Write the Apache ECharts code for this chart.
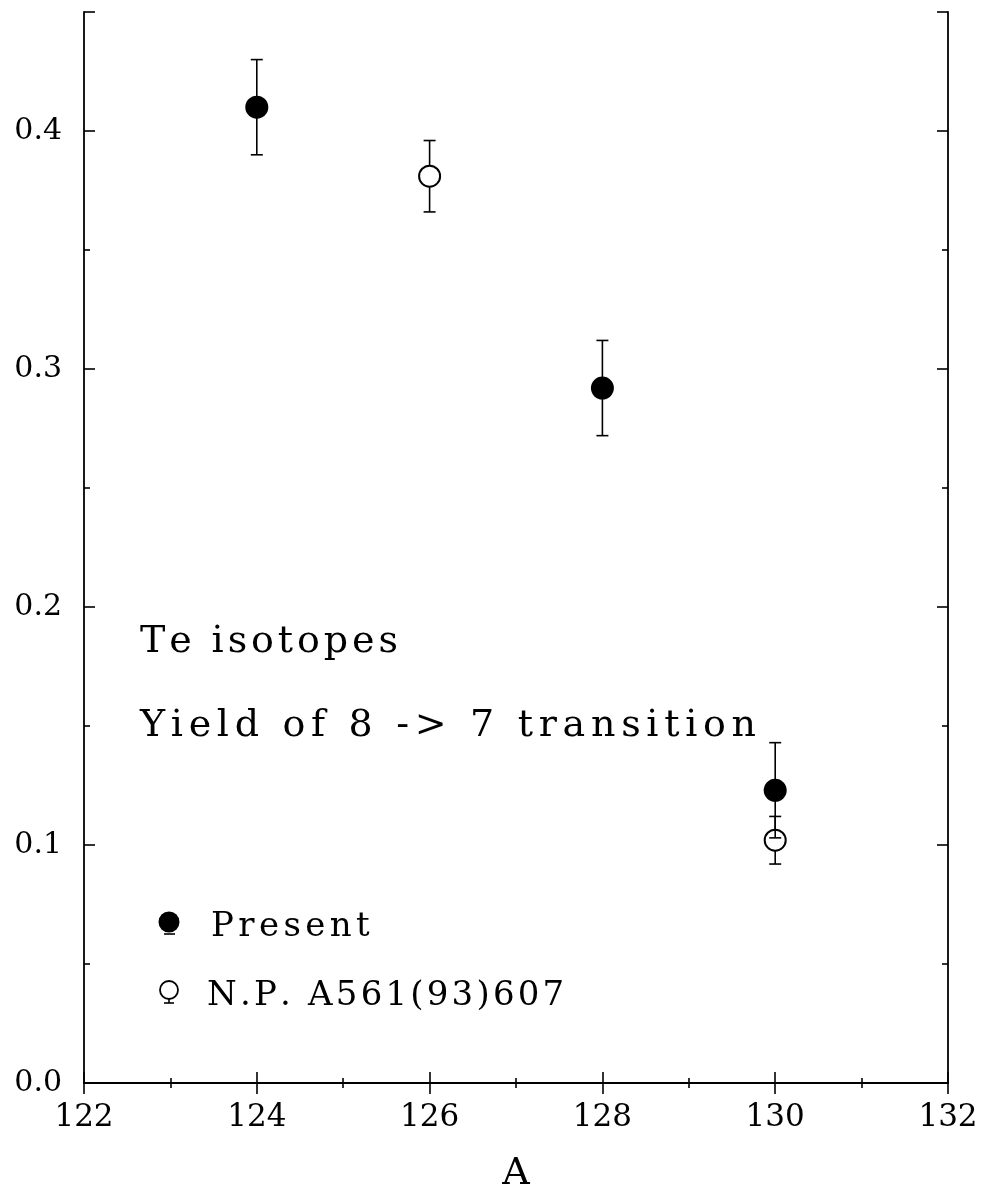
<!DOCTYPE html>
<html>
<head>
<meta charset="utf-8">
<script src="https://cdn.jsdelivr.net/npm/echarts@6/dist/echarts.min.js"></script>
<style>html,body{margin:0;padding:0;background:#fff}#c{width:997px;height:1198px}</style>
</head>
<body>
<div id="c"></div>
<script>
// ---- data ----
const massNumbers = [124, 128, 130];
const presentYield = [0.410, 0.292, 0.123];
const presentError = [0.020, 0.020, 0.020];
const npMassNumbers = [126, 130];
const npYield = [0.381, 0.102];
const npError = [0.015, 0.010];
const xTicks = [122, 124, 126, 128, 130, 132];
const yTicks = [0.0, 0.1, 0.2, 0.3, 0.4];
const annotation1 = 'Te isotopes';
const annotation2 = 'Yield of 8 -> 7 transition';
const legendPresent = 'Present';
const legendNP = 'N.P. A561(93)607';
const xName = 'A';

const FONT = '"DejaVu Serif", serif';

function spaced(str) {
  return str.split('').map(ch => '{c|' + ch + '}').join('');
}
function spacedRich(size, pad) {
  return { c: { fontFamily: FONT, fontSize: size, fill: '#000', color: '#000', padding: [0, pad, 0, pad] } };
}

const presentData = massNumbers.map((x, i) => [x, presentYield[i], presentError[i]]);
const npData = npMassNumbers.map((x, i) => [x, npYield[i], npError[i]]);

function errorBar(params, api) {
  const x = api.value(0), y = api.value(1), e = api.value(2);
  const hi = api.coord([x, y + e]);
  const lo = api.coord([x, y - e]);
  const cw = 6;
  const st = { stroke: '#000', lineWidth: 1.6 };
  return {
    type: 'group',
    children: [
      { type: 'line', shape: { x1: hi[0], y1: hi[1], x2: lo[0], y2: lo[1] }, style: st },
      { type: 'line', shape: { x1: hi[0] - cw, y1: hi[1], x2: hi[0] + cw, y2: hi[1] }, style: st },
      { type: 'line', shape: { x1: lo[0] - cw, y1: lo[1], x2: lo[0] + cw, y2: lo[1] }, style: st }
    ]
  };
}

const axisLine = { show: true, lineStyle: { color: '#000', width: 1.8 } };
const tickStyle = { color: '#000', width: 1.6 };

const chart = echarts.init(document.getElementById('c'), null, { renderer: 'canvas' });
chart.setOption({
  animation: false,
  backgroundColor: '#fff',
  grid: { left: 84, right: 49, top: 12, bottom: 108, containLabel: false },
  xAxis: [
    {
      type: 'value', min: xTicks[0], max: xTicks[xTicks.length - 1], interval: 2,
      position: 'bottom',
      name: xName, nameLocation: 'middle', nameGap: 72,
      nameTextStyle: { fontFamily: FONT, fontSize: 38, color: '#000' },
      axisLine: axisLine,
      axisTick: { show: true, inside: true, length: 11, lineStyle: tickStyle },
      minorTick: { show: true, splitNumber: 2, length: 5, lineStyle: tickStyle },
      axisLabel: { fontFamily: FONT, fontSize: 31, color: '#000', margin: 19 },
      splitLine: { show: false }
    },
    {
      type: 'value', min: xTicks[0], max: xTicks[xTicks.length - 1], interval: 2,
      position: 'top',
      axisLine: axisLine,
      axisTick: { show: true, inside: true, length: 11, lineStyle: tickStyle },
      minorTick: { show: true, splitNumber: 2, length: 5, lineStyle: tickStyle },
      axisLabel: { show: false },
      splitLine: { show: false }
    }
  ],
  yAxis: [
    {
      type: 'value', min: 0, max: 0.45, interval: 0.1,
      position: 'left',
      axisLine: axisLine,
      axisTick: { show: true, inside: true, length: 11, lineStyle: tickStyle },
      minorTick: { show: true, splitNumber: 2, length: 6, lineStyle: tickStyle },
      axisLabel: { fontFamily: FONT, fontSize: 30, color: '#000', margin: 22, showMaxLabel: false,
        formatter: v => v.toFixed(1) },
      splitLine: { show: false }
    },
    {
      type: 'value', min: 0, max: 0.45, interval: 0.1,
      position: 'right',
      axisLine: axisLine,
      axisTick: { show: true, inside: true, length: 11, lineStyle: tickStyle },
      minorTick: { show: true, splitNumber: 2, length: 6, lineStyle: tickStyle },
      axisLabel: { show: false },
      splitLine: { show: false }
    }
  ],
  series: [
    { name: 'NP err', type: 'custom', renderItem: errorBar, data: npData, z: 1, encode: { x: 0, y: 1 } },
    { name: legendNP, type: 'scatter', data: npData, symbol: 'circle', symbolSize: 21, z: 2,
      itemStyle: { color: '#fff', borderColor: '#000', borderWidth: 2, opacity: 1 } },
    { name: 'Present err', type: 'custom', renderItem: errorBar, data: presentData, z: 3, encode: { x: 0, y: 1 } },
    { name: legendPresent, type: 'scatter', data: presentData, symbol: 'circle', symbolSize: 23, z: 4,
      itemStyle: { color: '#000', opacity: 1 } }
  ],
  graphic: [
    { type: 'text', left: 140, top: 623, style: { text: spaced(annotation1), rich: spacedRich(38, 1.95) } },
    { type: 'text', left: 140, top: 707, style: { text: spaced(annotation2), rich: spacedRich(38, 2.85) } },
    { type: 'text', left: 211, top: 910, style: { text: spaced(legendPresent), rich: spacedRich(34, 2.2) } },
    { type: 'text', left: 207, top: 979, style: { text: spaced(legendNP), rich: spacedRich(34, 1.6) } },
    { type: 'circle', shape: { cx: 169, cy: 922, r: 10.5 }, style: { fill: '#000' } },
    { type: 'line', shape: { x1: 164, y1: 934, x2: 175, y2: 934 }, style: { stroke: '#000', lineWidth: 1.6 } },
    { type: 'circle', shape: { cx: 169, cy: 990, r: 9 }, style: { fill: '#fff', stroke: '#000', lineWidth: 1.8 } },
    { type: 'line', shape: { x1: 169, y1: 999, x2: 169, y2: 1003 }, style: { stroke: '#000', lineWidth: 1.6 } },
    { type: 'line', shape: { x1: 164, y1: 1003, x2: 174, y2: 1003 }, style: { stroke: '#000', lineWidth: 1.6 } }
  ]
});
</script>
</body>
</html>
